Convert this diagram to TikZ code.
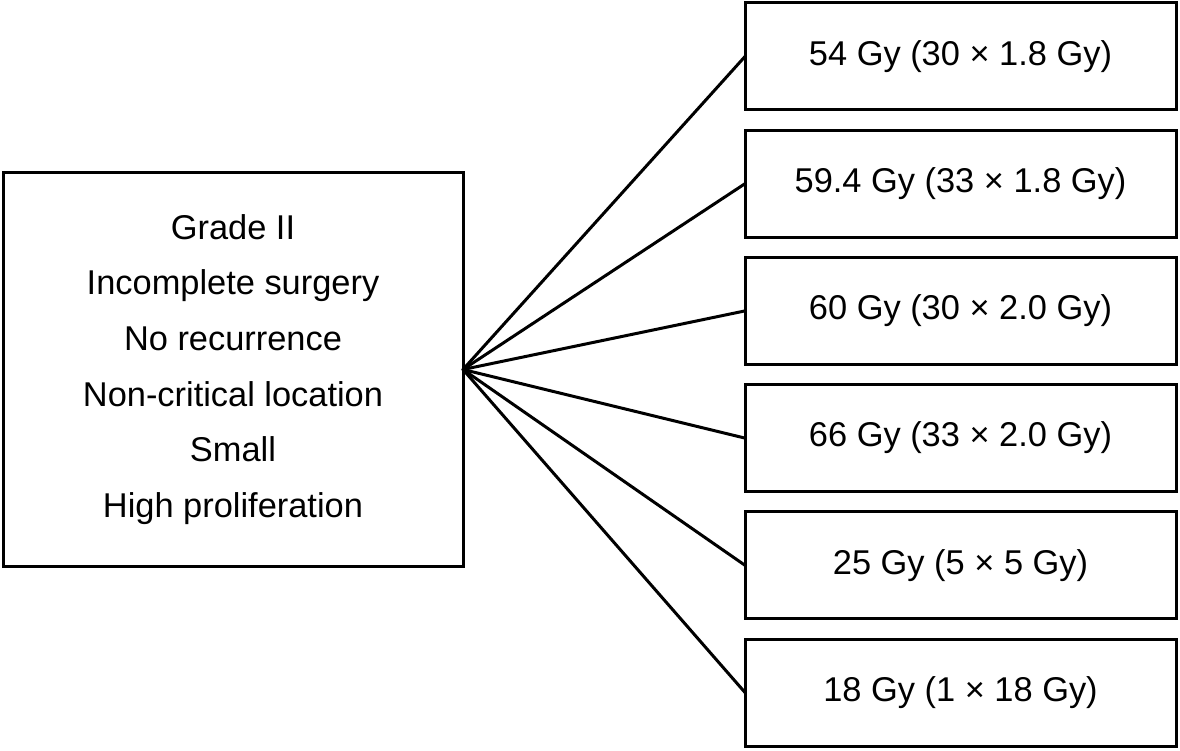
\documentclass[tikz,border=0pt]{standalone}
\usepackage{fontspec}
\setmainfont{Liberation Sans}
\begin{document}
\begin{tikzpicture}[x=1pt,y=-1pt,
  box/.style={draw, line width=3pt, outer sep=0pt, inner sep=0pt, font=\fontsize{34.4}{55.6}\selectfont, align=center},
  rbox/.style={box, minimum width=431pt, minimum height=107pt},
  link/.style={line width=3pt, line cap=round}]
\useasboundingbox (0,0) rectangle (1180,751);
\node[box, minimum width=460pt, minimum height=393pt] (L) at (233,369.5)
  {Grade II\\Incomplete surgery\\No recurrence\\Non-critical location\\Small\\High proliferation};
\node[rbox] (r1) at (960.5,56.5) {54 Gy (30 × 1.8 Gy)};
\node[rbox] (r2) at (960.5,183.7) {59.4 Gy (33 × 1.8 Gy)};
\node[rbox] (r3) at (960.5,310.9) {60 Gy (30 × 2.0 Gy)};
\node[rbox] (r4) at (960.5,438.1) {66 Gy (33 × 2.0 Gy)};
\node[rbox] (r5) at (960.5,565.3) {25 Gy (5 × 5 Gy)};
\node[rbox] (r6) at (960.5,692.5) {18 Gy (1 × 18 Gy)};
\coordinate (hub) at (L.east);
\foreach \i in {1,...,6} \draw[link] (hub) -- (r\i.west);
\end{tikzpicture}
\end{document}
